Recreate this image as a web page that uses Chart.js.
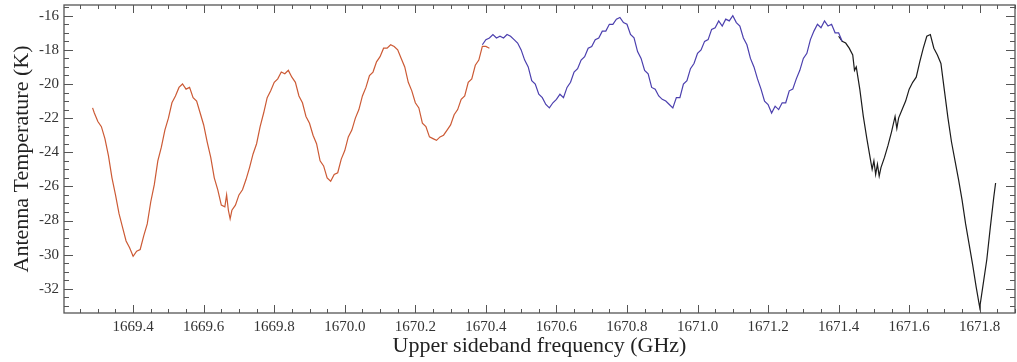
<!DOCTYPE html>
<html>
<head>
<meta charset="utf-8">
<script src="https://cdn.jsdelivr.net/npm/chart.js@4/dist/chart.umd.min.js"></script>
<style>
  body { margin: 0; background: #fff; }
</style>
</head>
<body>
<canvas id="myChart" width="1017" height="362"></canvas>
<script>
// spectrum segments (GHz, K)
let redFreq = [1669.285, 1669.29, 1669.30, 1669.31, 1669.32, 1669.33, 1669.34, 1669.35, 1669.36, 1669.37, 1669.38, 1669.39,
  1669.40, 1669.41, 1669.42, 1669.43, 1669.44, 1669.45, 1669.46, 1669.47, 1669.48, 1669.49, 1669.50, 1669.51,
  1669.52, 1669.53, 1669.54, 1669.55, 1669.56, 1669.57, 1669.58, 1669.59, 1669.60, 1669.61, 1669.62, 1669.63,
  1669.64, 1669.65, 1669.66, 1669.665, 1669.67, 1669.675, 1669.68, 1669.69, 1669.70, 1669.71, 1669.72, 1669.73,
  1669.74, 1669.75, 1669.76, 1669.77, 1669.78, 1669.79, 1669.80, 1669.81, 1669.82, 1669.83, 1669.84, 1669.85,
  1669.86, 1669.87, 1669.88, 1669.89, 1669.90, 1669.91, 1669.92, 1669.93, 1669.94, 1669.95, 1669.96, 1669.97,
  1669.98, 1669.99, 1670.00, 1670.01, 1670.02, 1670.03, 1670.04, 1670.05, 1670.06, 1670.07, 1670.08, 1670.09,
  1670.10, 1670.11, 1670.12, 1670.13, 1670.14, 1670.15, 1670.16, 1670.17, 1670.18, 1670.19, 1670.20, 1670.21,
  1670.22, 1670.23, 1670.24, 1670.25, 1670.26, 1670.27, 1670.28, 1670.29, 1670.30, 1670.31, 1670.32, 1670.33,
  1670.34, 1670.35, 1670.36, 1670.37, 1670.38, 1670.39, 1670.40, 1670.41];
let redTemp = [-21.4, -21.7, -22.2, -22.5, -23.2, -24.2, -25.5, -26.5, -27.6, -28.4, -29.2, -29.6,
  -30.1, -29.8, -29.7, -28.9, -28.2, -26.9, -25.9, -24.5, -23.7, -22.7, -22.0, -21.1,
  -20.7, -20.2, -20.0, -20.3, -20.2, -20.8, -21.0, -21.7, -22.4, -23.4, -24.3, -25.5,
  -26.2, -27.1, -27.2, -26.5, -27.4, -27.9, -27.4, -27.1, -26.5, -26.2, -25.6, -24.9,
  -24.1, -23.5, -22.5, -21.7, -20.8, -20.4, -19.9, -19.7, -19.3, -19.4, -19.2, -19.6,
  -19.9, -20.7, -21.1, -21.9, -22.3, -23.0, -23.5, -24.5, -24.8, -25.5, -25.7, -25.3,
  -25.2, -24.4, -23.9, -23.1, -22.7, -22.0, -21.5, -20.7, -20.2, -19.5, -19.3, -18.7,
  -18.4, -17.9, -17.9, -17.7, -17.8, -18.0, -18.5, -19.0, -19.9, -20.4, -21.1, -21.4,
  -22.3, -22.5, -23.1, -23.2, -23.3, -23.1, -23.0, -22.7, -22.4, -21.8, -21.5, -20.9,
  -20.7, -19.9, -19.7, -18.9, -18.6, -17.8, -17.8, -17.9];

let blueFreq = [1670.39, 1670.40, 1670.41, 1670.42, 1670.43, 1670.44, 1670.45, 1670.46, 1670.47, 1670.48, 1670.49,
  1670.50, 1670.51, 1670.52, 1670.53, 1670.54, 1670.55, 1670.56, 1670.57, 1670.58, 1670.59, 1670.60, 1670.61,
  1670.62, 1670.63, 1670.64, 1670.65, 1670.66, 1670.67, 1670.68, 1670.69, 1670.70, 1670.71, 1670.72, 1670.73,
  1670.74, 1670.75, 1670.76, 1670.77, 1670.78, 1670.79, 1670.80, 1670.81, 1670.82, 1670.83, 1670.84, 1670.85,
  1670.86, 1670.87, 1670.88, 1670.89, 1670.90, 1670.91, 1670.92, 1670.93, 1670.94, 1670.95, 1670.96, 1670.97,
  1670.98, 1670.99, 1671.00, 1671.01, 1671.02, 1671.03, 1671.04, 1671.05, 1671.06, 1671.07, 1671.08, 1671.09,
  1671.10, 1671.11, 1671.12, 1671.13, 1671.14, 1671.15, 1671.16, 1671.17, 1671.18, 1671.19, 1671.20, 1671.21,
  1671.22, 1671.23, 1671.24, 1671.25, 1671.26, 1671.27, 1671.28, 1671.29, 1671.30, 1671.31, 1671.32, 1671.33,
  1671.34, 1671.35, 1671.36, 1671.37, 1671.38, 1671.39, 1671.40, 1671.41];
let blueTemp = [-17.7, -17.4, -17.3, -17.1, -17.3, -17.2, -17.3, -17.1, -17.2, -17.4, -17.6,
  -18.0, -18.6, -19.0, -19.8, -20.0, -20.6, -20.8, -21.2, -21.4, -21.1, -20.9, -20.6,
  -20.8, -20.2, -19.9, -19.3, -19.1, -18.6, -18.4, -17.9, -17.8, -17.4, -17.3, -16.9,
  -16.9, -16.5, -16.5, -16.2, -16.1, -16.4, -16.5, -17.1, -17.3, -18.1, -18.5, -19.2,
  -19.4, -20.2, -20.3, -20.7, -20.9, -21.0, -21.2, -21.4, -20.8, -20.8, -20.0, -19.8,
  -19.1, -18.8, -18.2, -18.0, -17.5, -17.4, -16.8, -16.7, -16.3, -16.6, -16.2, -16.3,
  -16.0, -16.4, -16.6, -17.3, -17.7, -18.5, -19.0, -19.7, -20.3, -21.0, -21.2, -21.7,
  -21.3, -21.5, -21.1, -21.1, -20.4, -20.3, -19.7, -19.2, -18.5, -18.2, -17.4, -16.9,
  -16.5, -16.7, -16.3, -16.6, -16.5, -17.0, -17.0, -17.5];

let blackFreq = [1671.40, 1671.41, 1671.42, 1671.43, 1671.44, 1671.445, 1671.45, 1671.46, 1671.47, 1671.48,
  1671.49, 1671.495, 1671.50, 1671.505, 1671.51, 1671.515, 1671.52, 1671.53, 1671.54, 1671.55, 1671.56,
  1671.565, 1671.57, 1671.58, 1671.59, 1671.60, 1671.61, 1671.62, 1671.63, 1671.64, 1671.65, 1671.66,
  1671.67, 1671.68, 1671.69, 1671.70, 1671.71, 1671.72, 1671.73, 1671.74, 1671.75, 1671.76, 1671.77,
  1671.78, 1671.79, 1671.80, 1671.81, 1671.82, 1671.83, 1671.84, 1671.845];
let blackTemp = [-17.2, -17.5, -17.6, -17.9, -18.3, -19.2, -19.0, -20.3, -21.9, -23.2,
  -24.4, -25.0, -24.5, -25.3, -24.7, -25.4, -24.9, -24.3, -23.6, -22.8, -21.9,
  -22.6, -22.0, -21.5, -21.0, -20.3, -19.9, -19.6, -18.7, -17.9, -17.2, -17.1,
  -17.9, -18.3, -18.8, -20.4, -22.0, -23.4, -24.5, -25.6, -26.8, -28.2, -29.4,
  -30.6, -31.9, -33.1, -31.7, -30.3, -28.4, -26.6, -25.8];

let xTitle = 'Upper sideband frequency (GHz)';
let yTitle = 'Antenna Temperature (K)';

function toPoints(xs, ys) {
    return xs.map((x, i) => ({ x: x, y: ys[i] }));
}

// frame with inward major/minor ticks on all four sides
let frameTicks = {
    id: 'frameTicks',
    afterDraw(chart) {
        let c = chart.ctx;
        let a = chart.chartArea;
        let xs = chart.scales.x;
        let ys = chart.scales.y;
        c.save();
        c.strokeStyle = '#555';
        c.lineWidth = 1.3;
        c.strokeRect(a.left, a.top, a.right - a.left, a.bottom - a.top);
        c.lineWidth = 1;
        c.beginPath();
        for (let k = Math.ceil(xs.min / 0.05); k * 0.05 <= xs.max; k++) {
            let px = Math.round(xs.getPixelForValue(k * 0.05)) + 0.5;
            let len = (k % 4 === 0) ? 8 : 4;
            c.moveTo(px, a.bottom); c.lineTo(px, a.bottom - len);
            c.moveTo(px, a.top); c.lineTo(px, a.top + len);
        }
        for (let k = Math.ceil(ys.min / 0.5); k * 0.5 <= ys.max; k++) {
            let py = Math.round(ys.getPixelForValue(k * 0.5)) + 0.5;
            let len = (k % 4 === 0) ? 9 : 5;
            c.moveTo(a.left, py); c.lineTo(a.left + len, py);
            c.moveTo(a.right, py); c.lineTo(a.right - len, py);
        }
        c.stroke();
        c.restore();
    }
};

let ctx = document.getElementById('myChart').getContext('2d');
let myChart = new Chart(ctx, {
    type: 'line',
    data: {
        datasets: [
            {
                label: 'USB low',
                data: toPoints(redFreq, redTemp),
                borderColor: '#cc5a35',
                borderWidth: 1.2
            },
            {
                label: 'USB mid',
                data: toPoints(blueFreq, blueTemp),
                borderColor: '#4b3fae',
                borderWidth: 1.2
            },
            {
                label: 'USB high',
                data: toPoints(blackFreq, blackTemp),
                borderColor: '#1c1c1c',
                borderWidth: 1.2
            }
        ]
    },
    options: {
        responsive: false,
        animation: false,
        layout: { padding: { left: 0, right: 2, top: 0, bottom: 5 } },
        elements: { point: { radius: 0 }, line: { tension: 0 } },
        plugins: { legend: { display: false }, tooltip: { enabled: false } },
        scales: {
            x: {
                type: 'linear',
                min: 1669.204,
                max: 1671.9,
                grid: { display: false, drawTicks: false },
                border: { display: false },
                ticks: {
                    stepSize: 0.2,
                    includeBounds: false,
                    autoSkip: false,
                    maxRotation: 0,
                    padding: 7,
                    color: '#333',
                    font: { family: 'Liberation Serif', size: 15, lineHeight: 1 },
                    callback: v => v.toFixed(1)
                },
                title: {
                    display: true,
                    text: xTitle,
                    color: '#222',
                    padding: { top: -7, bottom: 0 },
                    font: { family: 'Liberation Serif', size: 22, lineHeight: 1 }
                }
            },
            y: {
                min: -33.42,
                max: -15.37,
                grid: { display: false, drawTicks: false },
                border: { display: false },
                ticks: {
                    stepSize: 2,
                    includeBounds: false,
                    padding: 5,
                    color: '#333',
                    font: { family: 'Liberation Serif', size: 15, lineHeight: 0 }
                },
                title: {
                    display: true,
                    text: yTitle,
                    color: '#222',
                    padding: { top: 11, bottom: 1 },
                    font: { family: 'Liberation Serif', size: 22, lineHeight: 1 }
                }
            }
        }
    },
    plugins: [frameTicks]
});
</script>
</body>
</html>
